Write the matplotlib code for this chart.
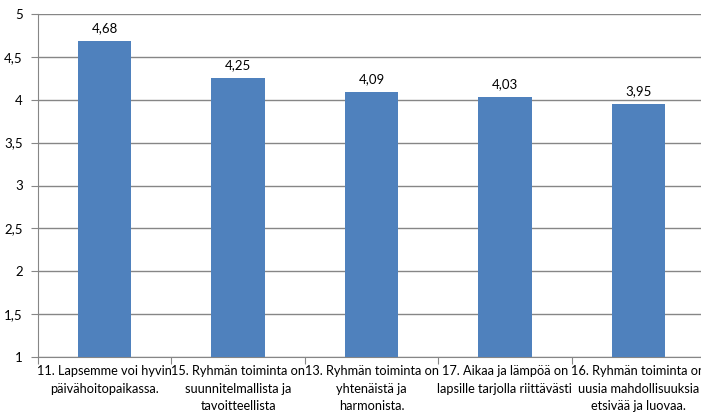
import matplotlib.pyplot as plt
import numpy as np

categories = [
    "11. Lapsemme voi hyvin\npäivähoitopaikassa.",
    "15. Ryhmän toiminta on\nsuunnitelmallista ja\ntavoitteellista",
    "13. Ryhmän toiminta on\nyhtenäistä ja\nharmonista.",
    "17. Aikaa ja lämpöä on\nlapsille tarjolla riittävästi",
    "16. Ryhmän toiminta on\nuusia mahdollisuuksia\netsivää ja luovaa.",
]
values = [4.68, 4.25, 4.09, 4.03, 3.95]
yticks = [1, 1.5, 2, 2.5, 3, 3.5, 4, 4.5, 5]

plt.rcParams['font.family'] = ['Lato', 'DejaVu Sans']

fig = plt.figure(figsize=(7.01, 4.13), dpi=100)
ax = fig.add_axes([38 / 701, 56 / 413, 667 / 701, 343 / 413])

x = np.arange(len(values))
ax.bar(x, values, width=0.4, bottom=0, color="#4F81BD", zorder=3)

for xi, v in zip(x, values):
    ax.text(xi, v + 0.08, f"{v:.2f}".replace(".", ","), ha="center", va="bottom",
            fontsize=9.5, color="black")

ax.set_ylim(1, 5)
ax.set_xlim(-0.5, len(values) - 0.5)
ax.set_yticks(yticks)
ax.set_yticklabels([f"{t:g}".replace(".", ",") for t in yticks], fontsize=9.5)
ax.yaxis.grid(True, color="#868686", linewidth=1, zorder=0)

ax.set_xticks(np.arange(len(values) + 1) - 0.5, minor=False)
ax.set_xticklabels([])
ax.set_xticks(x, minor=True)
ax.set_xticklabels(categories, minor=True, fontsize=9.2, linespacing=1.55)
ax.tick_params(axis="x", which="minor", length=0, pad=6)
ax.tick_params(axis="x", which="major", length=5, color="#868686")
ax.tick_params(axis="y", length=5, color="#868686", pad=6)

for s in ["top", "right"]:
    ax.spines[s].set_visible(False)
ax.spines["left"].set_color("#868686")
ax.spines["bottom"].set_color("#868686")

fig.savefig("out.png", dpi=100)
